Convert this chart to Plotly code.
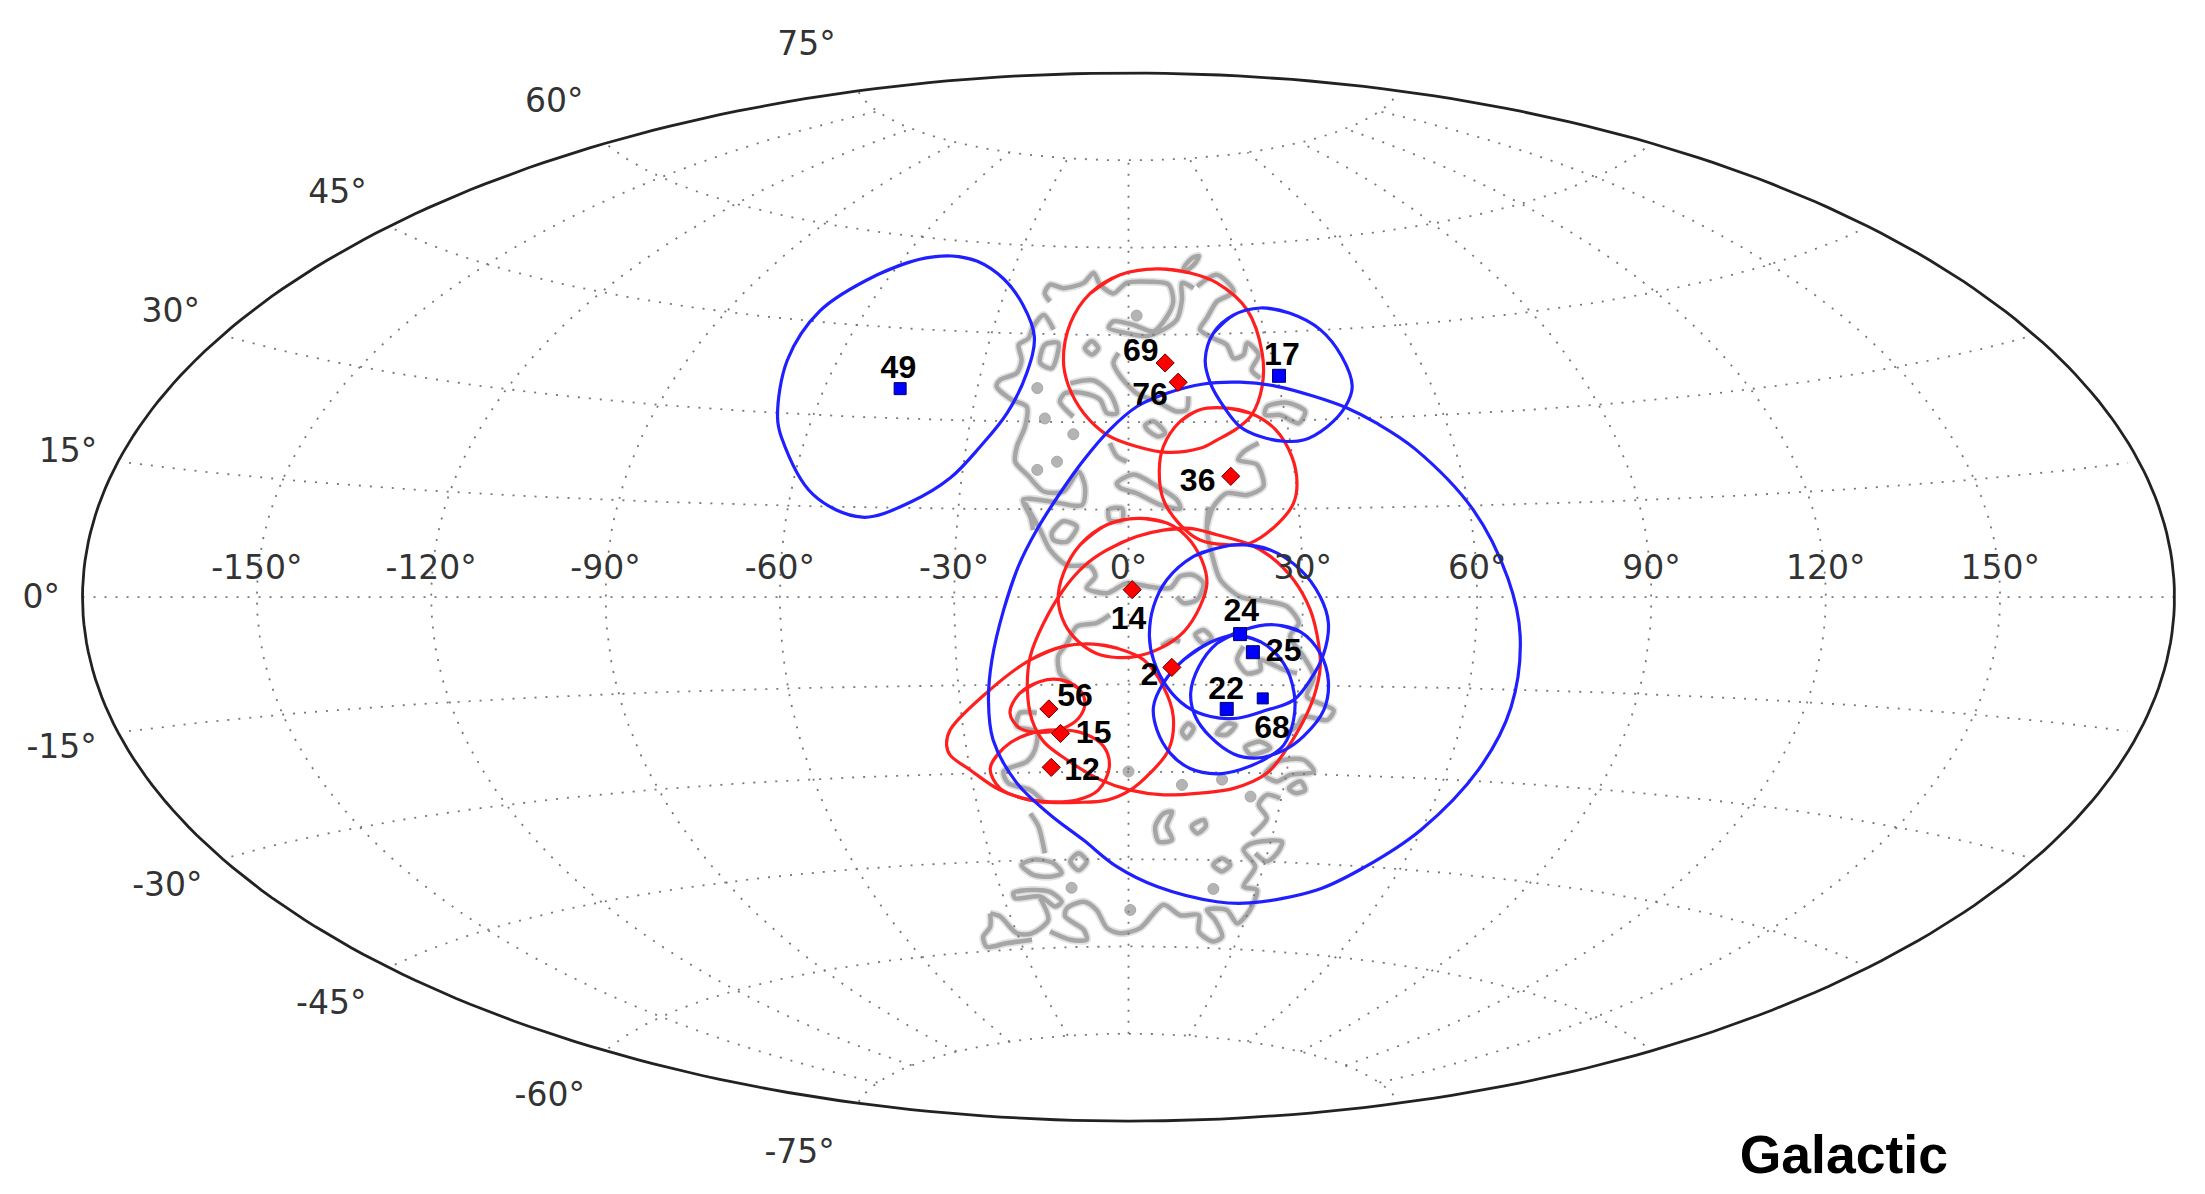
import numpy as np
import plotly.graph_objects as go

# Positions are read in the Aitoff plane, in degrees (x: -180..180, y: -90..90)

# Ejes
lon_ticks = [-150, -120, -90, -60, -30, 0, 30, 60, 90, 120, 150]
lat_ticks = [-75, -60, -45, -30, -15, 0, 15, 30, 45, 60, 75]
lat_label_text = ["75°", "60°", "45°", "30°", "15°", "0°", "-15°", "-30°", "-45°", "-60°", "-75°"]
lat_label_x = [-55.4, -98.8, -136.1, -164.8, -182.5, -187.1, -183.6, -165.4, -137.2, -99.6, -56.6]
lat_label_y = [94.3, 84.5, 68.9, 48.7, 24.7, -0.25, -25.9, -49.6, -69.8, -85.6, -95.3]

# Eventos
red_ids = ["69", "76", "36", "14", "2", "56", "15", "12"]
red_x = [6.3, 8.55, 17.6, 0.63, 7.46, -13.7, -11.7, -13.3]
red_y = [40.2, 36.9, 20.8, 1.4, -11.9, -19.0, -23.2, -29.0]
blue_ids = ["49", "17", "24", "25", "22", "68"]
blue_x = [-39.3, 25.9, 19.2, 21.4, 16.9, 23.1]
blue_y = [35.8, 38.0, -6.2, -9.3, -19.0, -17.2]
blue_sizes = [12, 13, 13, 13, 13, 11]

id_labels = ["69", "76", "17", "36", "14", "2", "24", "25", "22", "68", "56", "15", "12", "49"]
id_label_x = [2.1, 3.7, 26.4, 11.9, 0.0, 3.6, 19.4, 26.7, 16.8, 24.7, -9.2, -6.0, -8.0, -39.6]
id_label_y = [41.9, 34.4, 41.3, 19.7, -3.9, -13.5, -2.65, -9.5, -16.0, -22.6, -17.1, -23.4, -29.8, 39.0]

# Contornos de error
c49_x = [-30.4, -26.0, -21.5, -18.2, -16.2, -17.5, -20.9, -25.5, -30.7, -37.3, -45.8, -54.3, -59.7, -60.4, -58.7, -53.1, -43.4, -36.1]
c49_y = [58.5, 57.6, 54.6, 50.2, 44.7, 38.5, 31.6, 25.9, 20.5, 16.5, 13.8, 17.7, 27.4, 31.0, 40.7, 49.1, 55.2, 57.9]
c69_x = [4.9, 10.6, 15.2, 20.4, 23.0, 23.0, 21.2, 18.7, 15.2, 12.3, 6.6, 1.4, -3.7, -7.7, -10.3, -11.2, -10.0, -6.6, -1.4]
c69_y = [56.3, 55.6, 53.9, 49.3, 41.9, 36.2, 31.3, 29.0, 27.0, 25.6, 24.9, 25.9, 27.9, 31.6, 36.2, 40.7, 47.0, 52.1, 55.3]
c17_x = [22.7, 27.8, 33.0, 36.7, 38.5, 37.3, 34.2, 30.1, 26.7, 22.7, 19.2, 16.4, 14.1, 13.2, 14.6, 18.1]
c17_y = [49.6, 48.7, 45.9, 41.3, 36.2, 32.7, 29.3, 27.0, 26.8, 27.6, 29.3, 32.7, 36.7, 40.7, 45.3, 48.4]
c36_x = [16.4, 21.0, 25.3, 28.1, 29.0, 28.4, 25.8, 21.0, 16.9, 12.3, 8.9, 6.0, 5.3, 6.0, 8.9, 12.3]
c36_y = [32.5, 31.6, 28.8, 24.2, 19.6, 16.2, 12.8, 9.4, 9.1, 9.9, 12.5, 16.8, 21.9, 25.9, 30.2, 32.2]
c14_x = [1.7, 6.6, 10.0, 12.6, 13.5, 12.3, 9.5, 5.5, 1.4, -2.0, -5.5, -8.6, -10.9, -12.1, -11.2, -8.3, -3.7]
c14_y = [13.6, 12.8, 10.5, 6.5, 2.5, -1.5, -5.8, -8.6, -10.0, -10.2, -9.5, -7.5, -4.6, -0.3, 4.2, 9.1, 12.5]
c2_x = [6.0, 10.6, 15.2, 21.0, 24.4, 28.4, 31.3, 32.7, 33.0, 31.9, 29.6, 26.7, 23.8, 18.1, 12.3, 6.0, 0.3, -4.9, -10.6, -14.6, -16.6, -17.4, -16.9, -14.6, -11.2, -7.7, -3.7, 1.4]
c2_y = [11.6, 11.9, 10.8, 9.1, 7.1, 3.1, -2.1, -7.8, -11.8, -16.9, -22.0, -26.6, -30.0, -32.6, -33.4, -33.7, -32.9, -31.1, -27.7, -24.6, -20.9, -15.7, -10.0, -4.3, 1.4, 5.4, 8.2, 10.5]
c15_x = [-6.0, -2.0, 2.6, 6.0, 7.7, 6.9, 3.7, 0.3, -3.7, -8.9, -13.5, -16.9, -22.1, -27.3, -30.7, -31.3, -30.7, -23.8, -16.9, -11.2]
c15_y = [-7.9, -8.6, -10.6, -15.2, -20.3, -26.0, -30.0, -32.9, -34.6, -35.0, -35.0, -34.6, -32.9, -29.4, -26.9, -25.2, -22.6, -15.7, -10.6, -8.3]
c56_x = [-11.8, -8.6, -7.5, -8.6, -11.2, -15.2, -18.7, -20.4, -18.7, -15.2]
c56_y = [-14.0, -15.5, -18.0, -20.6, -22.3, -23.0, -22.3, -19.7, -16.3, -14.3]
c12_x = [-23.8, -21.5, -17.5, -12.3, -7.7, -4.3, -3.3, -5.2, -8.9, -13.5, -18.1, -22.1]
c12_y = [-29.2, -25.7, -23.4, -22.6, -23.2, -25.4, -28.9, -32.9, -34.6, -34.9, -34.3, -32.6]
c_big_x = [-15.8, -11.8, -7.7, -3.2, 1.4, 6.6, 12.9, 19.2, 25.5, 31.9, 37.6, 42.7, 49.3, 59.3, 65.3, 67.4, 65.8, 60.3, 50.3, 40.4, 32.4, 20.9, 15.2, 4.9, -2.0, -7.8, -13.5, -19.2, -23.3, -24.1, -23.5, -21.5, -18.9]
c_big_y = [11.6, 17.9, 23.6, 28.8, 32.7, 35.0, 36.6, 36.9, 36.2, 34.5, 32.5, 29.9, 25.5, 15.1, 3.3, -6.5, -18.8, -29.3, -39.7, -46.2, -50.0, -52.2, -52.0, -49.4, -46.0, -41.4, -37.1, -31.7, -24.3, -17.5, -10.6, -2.1, 5.5]
c24_x = [19.2, 24.4, 29.6, 33.0, 34.4, 33.6, 31.3, 28.4, 23.8, 18.7, 14.1, 10.0, 6.6, 4.3, 3.6, 4.3, 6.6, 11.2, 15.2]
c24_y = [9.1, 8.2, 4.8, 0.2, -4.3, -9.5, -14.0, -17.5, -19.2, -20.6, -20.3, -18.6, -15.2, -10.6, -6.6, -1.5, 3.1, 7.1, 8.5]
c22_x = [18.1, 22.7, 26.7, 28.5, 28.4, 26.7, 23.8, 19.2, 15.2, 10.6, 7.2, 4.9, 4.3, 6.0, 9.5, 14.1]
c22_y = [-6.4, -7.5, -11.2, -16.3, -20.9, -25.2, -27.4, -29.4, -30.1, -29.2, -26.6, -22.6, -18.6, -14.6, -10.6, -7.6]
c68_x = [25.0, 29.6, 33.0, 34.4, 33.6, 30.1, 26.7, 22.1, 18.1, 14.1, 11.5, 10.7, 12.1, 15.2, 19.8]
c68_y = [-4.6, -5.8, -9.5, -14.3, -19.2, -23.7, -26.1, -27.4, -26.7, -23.8, -20.3, -16.3, -11.8, -7.8, -5.5]

red_contours = [(c69_x, c69_y), (c36_x, c36_y), (c14_x, c14_y), (c2_x, c2_y), (c15_x, c15_y), (c56_x, c56_y), (c12_x, c12_y)]
blue_contours = [(c49_x, c49_y), (c17_x, c17_y), (c_big_x, c_big_y), (c24_x, c24_y), (c22_x, c22_y), (c68_x, c68_y)]

# Nube gris, tramos separados con None
cloud_x = [
    -13.5, -14.4, -13.5, -11.2, -7.7, -6.0, -4.9, -2.6, -0.3, 3.7, 6.9, 7.7, 6.6, 4.3, 0.9, -2.6, -3.4, -0.3, 3.2, 6.0, 8.3, 9.2, 9.2, 11.2, None,
    11.8, 15.2, 18.1, 15.2, 13.5, 12.3, 14.6, 16.9, 18.1, 19.8, 20.4, 22.4, 21.2, 22.7, None,
    9.5, 10.9, 12.1, 11.5, 10.0, 9.5, None,
    -14.4, -12.1, -13.2, -15.2, -14.4, None,
    -12.9, -14.6, -16.4, -17.2, -18.9, -18.4, -19.2, -22.1, -22.7, -20.1, -17.5, -17.8, -19.2, -19.5, -17.2, -14.6, -11.2, -8.6, -7.5, -8.0, -13.5, -18.1, -16.9, -16.4, None,
    -10.0, -6.0, -3.2, -2.0, -3.7, -4.9, -7.7, -10.9, -11.8, -9.5, None,
    -1.7, -2.6, -1.4, 1.4, 4.9, 8.3, 10.0, 10.3, None,
    -7.5, -6.3, -5.2, -6.3, -7.5, None,
    2.9, 4.3, 6.3, 5.2, 3.2, 2.9, None,
    -3.2, -2.0, -0.3, None,
    22.4, 19.8, 18.9, 22.1, 23.2, 20.4, 16.9, 14.6, 13.5, None,
    23.8, 27.3, 30.4, 29.3, 26.1, 23.5, 23.8, None,
    -2.0, 0.9, 4.9, 8.3, 8.9, 5.5, 1.4, -1.4, -2.0, None,
    -3.4, -1.1, -1.1, -3.2, -3.4, None,
    -13.2, -11.2, -8.9, -10.6, -12.9, -13.2, None,
    -17.8, -15.2, -13.5, -10.6, -6.6, -5.7, -7.2, -3.7, -0.3, 3.7, 7.2, 8.9, 11.2, 12.9, 11.8, 9.5, 8.3, None,
    13.8, 13.5, 14.6, 15.8, 19.2, 23.8, 27.3, 29.3, 27.8, 30.1, 31.9, 30.7, 35.3, 34.2, 30.1, 29.0, 26.7, None,
    -3.2, -5.5, -8.9, -10.6, -12.1, -11.8, -10.0, None,
    -15.8, -18.7, -19.2, -15.8, -16.1, -17.5, -21.5, -20.7, -16.9, -14.4, None,
    -16.9, -15.5, -14.4, None,
    -18.4, -16.4, -12.9, -11.5, -13.5, -16.4, -18.4, None,
    -10.0, -8.6, -7.2, -8.6, -10.0, None,
    -19.8, -16.9, -13.5, -11.5, -12.6, -15.2, -19.5, -19.8, None,
    -23.8, -22.1, -19.2, -16.6, -13.8, -15.2, None,
    -16.6, -21.0, -24.4, -25.0, -23.8, -23.8, None,
    -13.5, -10.0, -7.2, -7.7, -10.9, -10.6, -7.7, -5.5, -3.7, -1.4, 2.0, 6.0, 8.9, 12.1, 12.1, 14.6, 16.1, 14.9, 13.5, 16.9, 18.7, 20.9, 22.1, 19.8, 21.8, 19.8, 21.2, 26.4, 25.8, 23.8, 21.8, None,
    21.2, 23.8, 22.4, 23.8, 26.1, None,
    6.0, 7.5, 6.6, 7.5, 5.2, 4.6, 6.0, None,
    10.9, 13.0, 13.3, 11.8, 10.9, None,
    14.6, 16.1, 17.5, 16.1, 14.6, None,
    23.5, 25.8, 30.1, 31.9, 27.8, 25.5, 23.5, None,
    27.6, 29.6, 30.4, 28.7, 27.6, None,
    20.1, 22.7, 24.4, 21.0, 20.1, None,
    15.2, 16.9, 18.4, 16.9, 15.2, None,
    9.2, 10.3, 11.2, 10.0, 9.2, None,
    11.5, 12.9, 14.3, 12.9, 11.5, None,
    19.8, 18.7, 20.4, 22.7, 22.7, 24.4, 26.7, 29.0, None,
    5.7, 7.5, 8.9,
]
cloud_y = [
    50.7, 52.1, 53.6, 53.0, 53.9, 55.6, 53.6, 52.1, 53.9, 54.1, 53.6, 50.7, 48.1, 45.6, 46.7, 47.3, 46.2, 45.3, 44.8, 45.9, 47.6, 51.0, 53.9, 53.0, None,
    53.3, 55.3, 52.4, 50.7, 47.9, 45.9, 44.4, 43.3, 41.0, 41.6, 43.6, 41.6, 39.0, 37.6, None,
    56.4, 58.1, 58.5, 57.3, 56.1, 56.4, None,
    43.3, 43.6, 39.3, 40.2, 43.3, None,
    45.9, 48.4, 46.4, 44.4, 43.3, 40.7, 38.5, 37.3, 36.2, 33.9, 32.7, 29.3, 25.9, 23.3, 20.8, 18.2, 18.2, 21.6, 19.1, 15.9, 16.5, 16.8, 13.9, 11.6, None,
    36.7, 37.2, 35.0, 31.6, 31.6, 33.9, 35.0, 35.0, 33.6, 31.0, None,
    41.9, 40.2, 37.9, 35.0, 33.6, 31.9, 32.2, 34.5, None,
    42.7, 43.9, 42.7, 41.6, 42.7, None,
    29.6, 30.2, 28.2, 27.6, 28.8, 29.6, None,
    26.5, 24.2, 23.3, None,
    26.5, 25.0, 23.6, 22.8, 19.1, 17.6, 17.9, 15.6, 12.2, None,
    32.7, 33.4, 31.9, 29.9, 31.3, 31.3, 32.7, None,
    19.6, 21.1, 19.1, 16.8, 15.3, 15.9, 17.9, 18.8, 19.6, None,
    15.1, 15.3, 13.3, 13.3, 15.1, None,
    11.1, 13.1, 12.2, 9.6, 9.9, 11.1, None,
    16.2, 11.6, 8.2, 5.6, 5.4, 3.7, 1.7, 0.8, 2.5, 1.9, 1.7, 3.7, 3.9, 2.5, -0.3, -0.9, 0.2, None,
    15.6, 11.6, 6.5, 3.1, 0.2, -0.6, -1.5, -4.3, -6.6, -10.0, -13.5, -16.9, -19.2, -20.9, -20.3, -22.0, -23.4, None,
    -2.9, -4.3, -4.9, -7.8, -10.0, -12.9, -14.6, None,
    -19.7, -19.7, -22.0, -22.9, -26.0, -28.0, -29.7, -31.7, -32.9, -35.1, None,
    -36.9, -39.1, -43.7, None,
    -45.7, -44.8, -45.4, -47.1, -47.7, -47.4, -45.7, None,
    -45.1, -43.7, -45.1, -46.6, -45.1, None,
    -50.5, -50.0, -50.3, -52.0, -52.8, -51.1, -51.4, -50.5, None,
    -54.0, -54.5, -57.4, -57.4, -55.1, -51.4, None,
    -58.5, -59.1, -59.7, -58.0, -56.3, -54.0, None,
    -57.1, -58.5, -58.5, -56.8, -54.5, -53.1, -52.0, -53.4, -56.5, -57.4, -56.5, -52.5, -54.3, -54.3, -57.1, -58.8, -58.0, -55.1, -53.4, -53.4, -55.7, -53.4, -50.0, -49.4, -46.0, -43.1, -42.0, -41.7, -43.4, -45.1, -43.7, None,
    -40.6, -37.7, -35.4, -33.7, -34.3, None,
    -36.9, -36.6, -39.1, -41.4, -41.7, -39.1, -36.9, None,
    -39.1, -38.0, -39.1, -40.3, -39.1, None,
    -45.7, -44.6, -45.7, -46.8, -45.7, None,
    -30.3, -28.0, -27.7, -29.7, -30.3, -31.4, -30.3, None,
    -32.6, -31.4, -32.9, -33.4, -32.6, None,
    -25.5, -24.6, -25.7, -26.8, -25.5, None,
    -23.2, -21.5, -21.8, -23.4, -23.2, None,
    -22.9, -21.5, -22.3, -24.0, -22.9, None,
    -6.3, -5.5, -6.9, -7.8, -6.3, None,
    -8.3, -10.6, -12.9, -12.3, -10.6, -11.2, -12.3, -12.9, None,
    -8.3, -7.2, -7.5,
]
cloud_dot_x = [-15.7, 1.4, -14.4, -12.3, -15.7, -9.5, 0.0, 9.2, 21.0, -9.8, 0.3, 14.6, 16.1]
cloud_dot_y = [35.9, 48.3, 30.7, 23.3, 21.9, 28.0, -29.7, -32.0, -34.0, -49.6, -53.4, -49.8, -31.1]


def aitoff(lon, lat):
    lam = np.radians(np.asarray(lon, dtype=float))
    phi = np.radians(np.asarray(lat, dtype=float))
    alpha = np.arccos(np.cos(phi) * np.cos(lam / 2))
    s = np.sinc(alpha / np.pi)
    # el mapa original esta un poco aplastado en vertical
    return np.degrees(2 * np.cos(phi) * np.sin(lam / 2) / s), 0.144 + 0.99624 * np.degrees(np.sin(phi) / s)


fig = go.Figure()

# Nube: halo claro debajo para el borde difuso
fig.add_trace(go.Scatter(x=cloud_x, y=cloud_y, mode="lines", opacity=0.3,
                         line=dict(color="#a0a0a0", width=8, shape="spline", smoothing=0.8)))
fig.add_trace(go.Scatter(x=cloud_x, y=cloud_y, mode="lines", line=dict(color="#a6a6a6", width=4.5, shape="spline", smoothing=0.8)))
fig.add_trace(go.Scatter(x=cloud_dot_x, y=cloud_dot_y, mode="markers",
                         marker=dict(size=11, color="#b4b4b4", line=dict(color="#a8a8a8", width=1))))

# Reticula
grid_x, grid_y = [], []
for lon in lon_ticks:
    gx, gy = aitoff(np.full(61, lon), np.linspace(-75, 75, 61))
    grid_x += list(gx) + [None]
    grid_y += list(gy) + [None]
for lat in lat_ticks:
    end = 180 if lat == 0 else 178
    gx, gy = aitoff(np.linspace(-end, end, 121), np.full(121, lat))
    grid_x += list(gx) + [None]
    grid_y += list(gy) + [None]
fig.add_trace(go.Scatter(x=grid_x, y=grid_y, mode="lines", line=dict(color="#777777", width=1.8, dash="2px,9px")))

# Marco del mapa
side = np.linspace(-90, 90, 181)
left_x, left_y = aitoff(np.full(181, -180), side)
right_x, right_y = aitoff(np.full(181, 180), side[::-1])
fig.add_trace(go.Scatter(x=list(left_x) + list(right_x) + [left_x[0]], y=list(left_y) + list(right_y) + [left_y[0]],
                         mode="lines", line=dict(color="#222222", width=2.8)))

# Contornos (se solapan un poco al cerrar para que el spline no haga pico)
for cx, cy in red_contours:
    fig.add_trace(go.Scatter(x=cx[-2:] + cx + cx[:2], y=cy[-2:] + cy + cy[:2], mode="lines",
                             line=dict(color="#ff1f1f", width=3.2, shape="spline", smoothing=1.0)))
for cx, cy in blue_contours:
    fig.add_trace(go.Scatter(x=cx[-2:] + cx + cx[:2], y=cy[-2:] + cy + cy[:2], mode="lines",
                             line=dict(color="#1f1fff", width=3.2, shape="spline", smoothing=1.0)))

# Eventos
fig.add_trace(go.Scatter(x=red_x, y=red_y, mode="markers", text=red_ids,
                         marker=dict(symbol="diamond", size=14, color="#ff0000", opacity=1, line=dict(color="#6b0000", width=1))))
fig.add_trace(go.Scatter(x=blue_x, y=blue_y, mode="markers", text=blue_ids,
                         marker=dict(symbol="square", size=blue_sizes, color="#0000ff", opacity=1, line=dict(color="#000066", width=1))))

# Textos
fig.add_trace(go.Scatter(x=id_label_x, y=id_label_y, mode="text", text=id_labels, textposition="middle center",
                         textfont=dict(family="Liberation Sans", size=32, color="black", weight="bold")))
fig.add_trace(go.Scatter(x=lon_ticks, y=[4.63] * len(lon_ticks), mode="text", text=[f"{v}°" for v in lon_ticks],
                         textposition="middle center", textfont=dict(family="DejaVu Sans", size=33, color="#333333")))
fig.add_trace(go.Scatter(x=lat_label_x, y=lat_label_y, mode="text", text=lat_label_text, textposition="middle center",
                         textfont=dict(family="DejaVu Sans", size=33, color="#333333")))
fig.add_trace(go.Scatter(x=[123.1], y=[-96.2], mode="text", text=["Galactic"], textposition="middle center",
                         textfont=dict(family="Liberation Sans", size=53.5, color="black", weight="bold")))

fig.update_layout(
    width=2205,
    height=1194,
    margin=dict(l=0, r=0, t=0, b=0),
    paper_bgcolor="white",
    plot_bgcolor="white",
    showlegend=False,
    xaxis=dict(visible=False, range=[-194.2, 185.25]),
    yaxis=dict(visible=False, range=[-102.0, 102.3]),
)

fig.write_html("out.html", config=dict(displayModeBar=False), post_script="document.body.style.margin='0';")
